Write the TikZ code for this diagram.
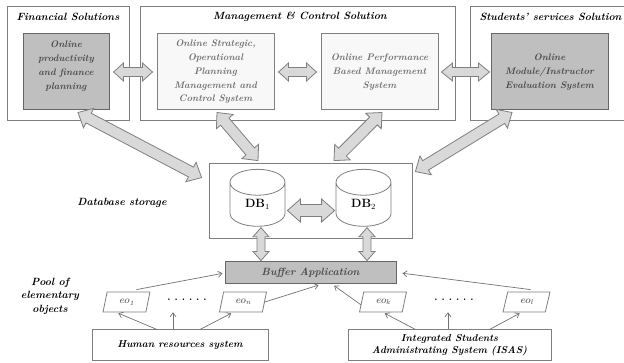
\documentclass[tikz,border=0pt]{standalone}
\usepackage{xcolor}
\usetikzlibrary{shapes.geometric,arrows.meta,calc,positioning}

\definecolor{boxline}{HTML}{7F7F7F}
\definecolor{darkfill}{HTML}{BFBFBF}
\definecolor{lightfill}{HTML}{F8F8F8}
\definecolor{arrowfill}{HTML}{D9D9D9}
\definecolor{softtext}{HTML}{707070}
\definecolor{midtext}{HTML}{4A4A4A}

\tikzset{
  outerbox/.style={draw=boxline, line width=0.8pt, minimum height=114pt, inner sep=0pt},
  title/.style={font=\fontsize{10.5}{12}\selectfont\bfseries\itshape},
  darkbox/.style={draw=boxline!80!black, fill=darkfill, line width=1pt, minimum height=76pt,
    minimum width=#1, align=center, text=midtext,
    font=\fontsize{9.5}{13.7}\selectfont\bfseries\itshape},
  lightbox/.style={draw=boxline, fill=lightfill, line width=1pt, minimum height=76pt,
    minimum width=#1, align=center, text=softtext,
    font=\fontsize{9.5}{13.7}\selectfont\bfseries\itshape},
  dbcyl/.style={cylinder, shape border rotate=90, aspect=1.05, draw=boxline, fill=white,
    line width=0.8pt, minimum width=55pt, minimum height=57pt, inner sep=0pt,
    font=\fontsize{12}{14}\selectfont\bfseries},
  eobox/.style={trapezium, trapezium left angle=75, trapezium right angle=105,
    trapezium stretches=true, draw=boxline, line width=0.8pt, fill=white,
    minimum width=47pt, minimum height=20pt, inner sep=0pt, text=softtext,
    font=\fontsize{10}{12}\selectfont\bfseries\itshape},
  basebox/.style={draw=boxline, line width=1pt, minimum height=31pt, minimum width=#1,
    align=center, font=\fontsize{10}{12}\selectfont\bfseries\itshape},
  sidelabel/.style={align=center, font=\fontsize{10.5}{13.5}\selectfont\bfseries\itshape},
  fatarr/.style={draw=boxline, fill=arrowfill, line width=0.8pt, line join=miter},
  feed/.style={draw=boxline!90!black, line width=0.7pt, -{Straight Barb[length=4pt,width=6pt]},
    shorten >=2pt}
}

% block arrow with two heads: ends, head length, half head, half shaft
\newcommand{\fatarrow}[5]{%
  \draw[fatarr] (#1) -- ($(#1)!#3!(#2)!#4!90:(#2)$) -- ($(#1)!#3!(#2)!#5!90:(#2)$)
    -- ($(#2)!#3!(#1)!#5!-90:(#1)$) -- ($(#2)!#3!(#1)!#4!-90:(#1)$) -- (#2)
    -- ($(#2)!#3!(#1)!#4!90:(#1)$) -- ($(#2)!#3!(#1)!#5!90:(#1)$)
    -- ($(#1)!#3!(#2)!#5!-90:(#2)$) -- ($(#1)!#3!(#2)!#4!-90:(#2)$) -- cycle;}

\newcommand{\dotrow}{\textbf{.\hspace{4pt}.\hspace{4pt}.\hspace{4pt}.\hspace{4pt}.\hspace{4pt}.}}

\begin{document}
\begin{tikzpicture}[x=1pt, y=-1pt]
\useasboundingbox (0,0) rectangle (624,363);

% solution groups
\node[outerbox, minimum width=122pt] (finbox) at (68,63) {};
\node[outerbox, minimum width=315pt] (mgmtbox) at (297.5,63) {};
\node[outerbox, minimum width=158pt] (stubox) at (549,63) {};
\node[title] (fintitle) at (68,17) {Financial Solutions};
\node[title] (mgmttitle) at (300,17) {Management \& Control Solution};
\node[title, anchor=west] (stutitle) at (476,17) {Students' services Solution};

\node[darkbox=86pt] (fin) at (66,72) {Online\\productivity\\and finance\\planning\\ \mbox{}};
\node[lightbox=117pt] (strat) at (215.5,72) {Online Strategic,\\Operational\\Planning\\Management and\\Control System};
\node[lightbox=117pt] (perf) at (379.5,72) {Online Performance\\Based Management\\System};
\node[darkbox=117pt] (modl) at (549.5,72) {Online\\Module/Instructor\\Evaluation System};

% storage
\node[draw=boxline, line width=0.8pt, minimum width=203pt, minimum height=75pt] (store) at (310.5,200.5) {};
\node[dbcyl] (db1) at (257.5,204.5) {DB$_1$};
\node[dbcyl] (db2) at (363.5,204.5) {DB$_2$};
\node[sidelabel] (storelabel) at (122,203) {Database storage};

\node[draw=boxline!80!black, fill=darkfill, line width=1pt, minimum width=171pt, minimum height=22pt,
  text=midtext, font=\fontsize{10.5}{12}\selectfont\bfseries\itshape] (buf) at (310.5,273) {Buffer Application};

% elementary objects
\node[sidelabel] (poollabel) at (50,296) {Pool of\\elementary\\objects};
\node[eobox] (eoa) at (126.5,302) {eo\textsubscript{1}};
\node (dotsa) at (187,300) {\dotrow};
\node[eobox] (eon) at (243,302) {eo\textsubscript{n}};
\node[eobox] (eok) at (383,302) {eo\textsubscript{k}};
\node (dotsb) at (454,300) {\dotrow};
\node[eobox] (eol) at (526.5,302) {eo\textsubscript{l}};

\node[basebox=176pt] (hr) at (180,345.5) {Human resources system};
\node[basebox=203pt] (isas) at (449.5,345.5) {Integrated Students\\Administrating System (ISAS)};

% block arrows
\coordinate (fa1) at ([xshift=4pt]fin.east);
\coordinate (fa2) at ([xshift=-4pt]strat.west);
\coordinate (fb1) at ([xshift=4pt]strat.east);
\coordinate (fb2) at ([xshift=-4pt]perf.west);
\coordinate (fc1) at ([xshift=3pt]perf.east);
\coordinate (fc2) at ([xshift=-1pt]modl.west);
\fatarrow{fa1}{fa2}{10pt}{9pt}{4.5pt}
\fatarrow{fb1}{fb2}{10pt}{9pt}{4.5pt}
\fatarrow{fc1}{fc2}{11pt}{9pt}{4.5pt}

\coordinate (ga1) at ([xshift=12pt, yshift=-2pt]fin.south);
\coordinate (ga2) at ([xshift=-7pt, yshift=-15pt]store.north west);
\coordinate (gb1) at ([xshift=1.5pt, yshift=-2pt]strat.south);
\coordinate (gb2) at ([xshift=-52.5pt, yshift=2pt]store.north);
\coordinate (gc1) at ([xshift=2.5pt, yshift=-2pt]perf.south);
\coordinate (gc2) at ([xshift=23.5pt, yshift=2pt]store.north);
\coordinate (gd1) at ([xshift=-37.5pt, yshift=-2pt]modl.south);
\coordinate (gd2) at ([xshift=3pt, yshift=-9pt]store.north east);
\fatarrow{ga1}{ga2}{12pt}{11pt}{5.5pt}
\fatarrow{gb1}{gb2}{12pt}{11pt}{5.5pt}
\fatarrow{gc1}{gc2}{12pt}{11pt}{5.5pt}
\fatarrow{gd1}{gd2}{12pt}{11pt}{5.5pt}

\coordinate (ha1) at ([xshift=2pt, yshift=-6pt]db1.east);
\coordinate (ha2) at ([xshift=-1pt, yshift=-6pt]db2.west);
\fatarrow{ha1}{ha2}{13pt}{11.5pt}{6pt}
\coordinate (hb1) at ([xshift=3.5pt, yshift=-1pt]db1.south);
\coordinate (hb2) at ([xshift=-49.5pt, yshift=1pt]buf.north);
\coordinate (hc1) at ([xshift=3.5pt, yshift=-1pt]db2.south);
\coordinate (hc2) at ([xshift=56.5pt, yshift=1pt]buf.north);
\fatarrow{hb1}{hb2}{9pt}{8pt}{4pt}
\fatarrow{hc1}{hc2}{9pt}{8pt}{4pt}

% feeds into the buffer
\draw[feed] ([xshift=10pt, yshift=2pt]eoa.north) -- (buf.west);
\draw[feed] (eon.east) -- ([xshift=10pt]buf.south);
\draw[feed] ([yshift=-3pt]eok.west) -- ([xshift=22pt]buf.south);
\draw[feed] ([xshift=4pt, yshift=2pt]eol.north) -- ([xshift=4pt]buf.east);

% systems to objects
\draw[feed] ([xshift=-23pt]hr.north) -- ([xshift=-10pt]eoa.south);
\draw[feed] ([xshift=-7pt]hr.north) -- ([xshift=-14pt, yshift=-6pt]dotsa.south);
\draw[feed] ([xshift=20pt]hr.north) -- ([xshift=-10pt]eon.south);
\draw[feed] ([xshift=-34pt]isas.north) -- (eok.south);
\draw[feed] ([xshift=-1.5pt]isas.north) -- ([xshift=-6pt, yshift=-6pt]dotsb.south);
\draw[feed] ([xshift=40pt]isas.north) -- ([xshift=-5pt]eol.south);
\end{tikzpicture}
\end{document}
